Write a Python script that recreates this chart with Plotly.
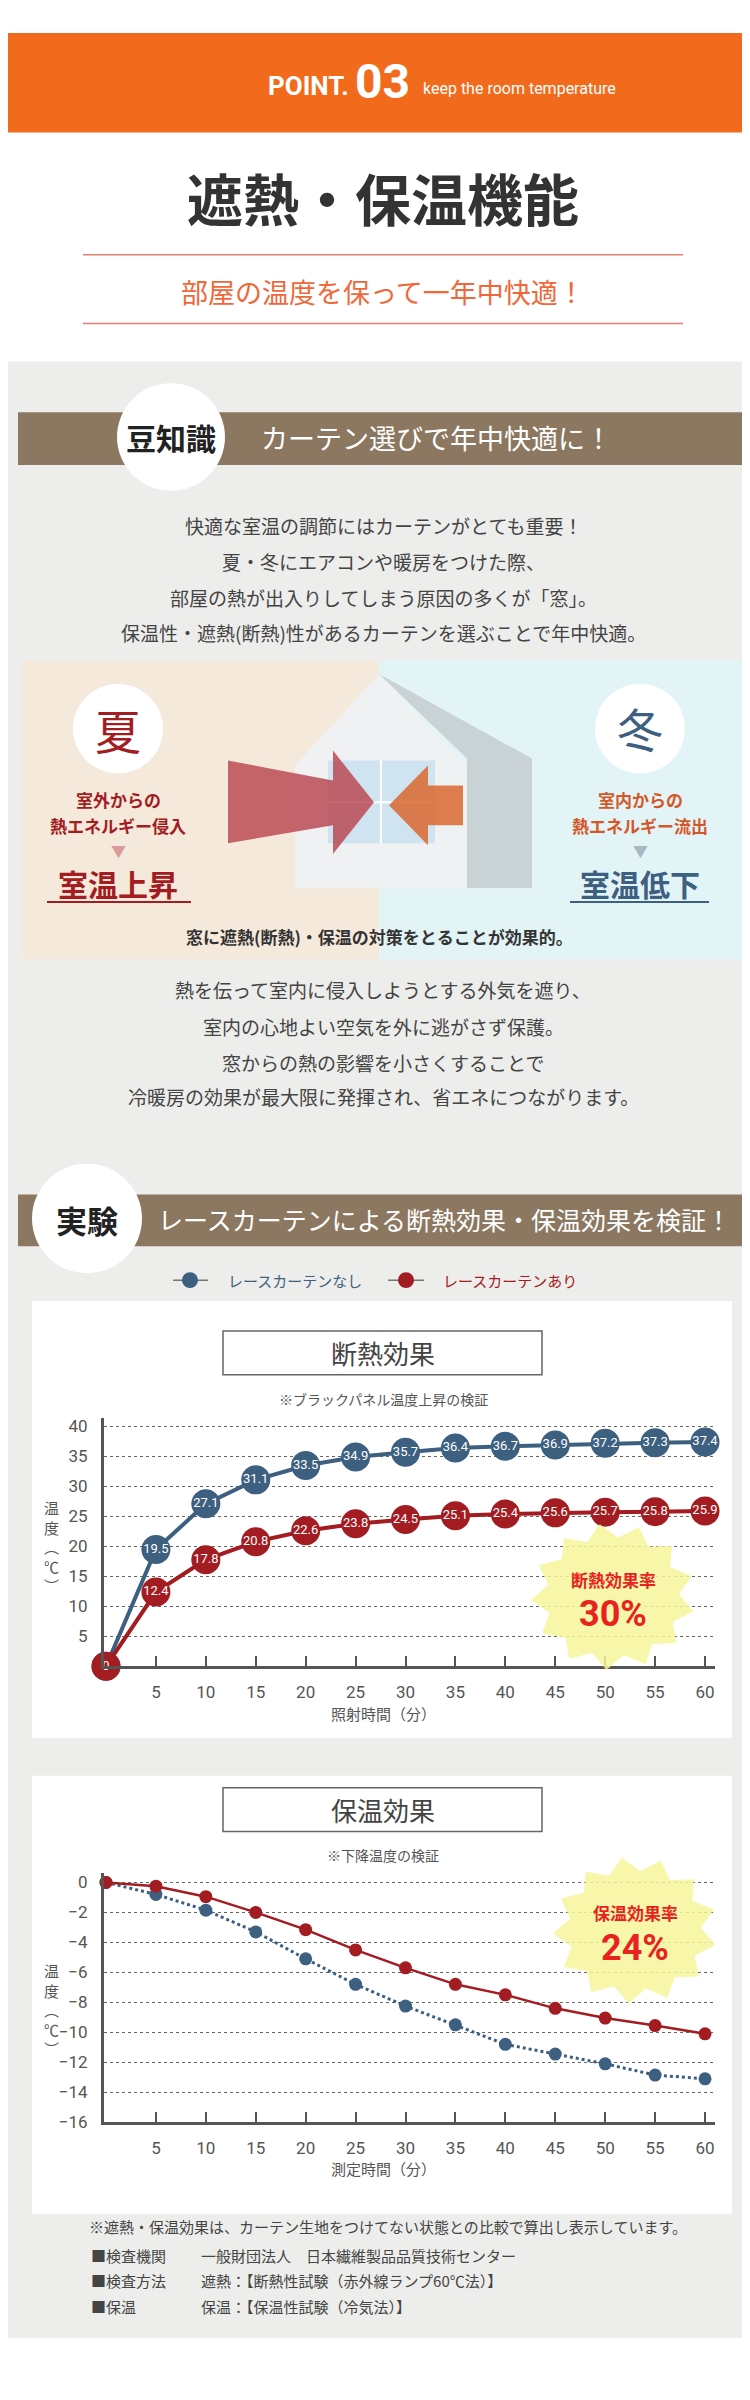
import numpy as np
import plotly.graph_objects as go

W, H = 750, 2400
FONT = "Noto Sans CJK JP"
BLUE = "#3D5F80"
RED = "#A31C22"

# ---- data ----
minutes = [0, 5, 10, 15, 20, 25, 30, 35, 40, 45, 50, 55, 60]
shade_none = [0, 19.5, 27.1, 31.1, 33.5, 34.9, 35.7, 36.4, 36.7, 36.9, 37.2, 37.3, 37.4]
shade_lace = [0, 12.4, 17.8, 20.8, 22.6, 23.8, 24.5, 25.1, 25.4, 25.6, 25.7, 25.8, 25.9]
keep_none = [0, -0.8, -1.85, -3.3, -5.1, -6.8, -8.25, -9.5, -10.8, -11.45, -12.1, -12.85, -13.1]
keep_lace = [0, -0.25, -0.95, -2.0, -3.15, -4.5, -5.7, -6.8, -7.5, -8.4, -9.05, -9.55, -10.1]
x_ticks = [5, 10, 15, 20, 25, 30, 35, 40, 45, 50, 55, 60]
y1_ticks = [5, 10, 15, 20, 25, 30, 35, 40]
y2_ticks = [0, -2, -4, -6, -8, -10, -12, -14, -16]
series_names = ["レースカーテンなし", "レースカーテンあり"]

def px(x): return x / W
def py(y): return 1 - y / H

shapes, anns = [], []

def rect(x0, y0, x1, y1, fill, line=None, lw=0, layer="below"):
    shapes.append(dict(type="rect", xref="paper", yref="paper", x0=px(x0), x1=px(x1),
                       y0=py(y1), y1=py(y0), fillcolor=fill, layer=layer,
                       line=dict(color=line or fill, width=lw)))

def circle(cx, cy, r, fill, layer="below"):
    shapes.append(dict(type="circle", xref="paper", yref="paper", x0=px(cx - r), x1=px(cx + r),
                       y0=py(cy + r), y1=py(cy - r), fillcolor=fill, line=dict(width=0), layer=layer))

def line(x0, y0, x1, y1, color, w=1.5, dash="solid", layer="below"):
    shapes.append(dict(type="line", xref="paper", yref="paper", x0=px(x0), x1=px(x1),
                       y0=py(y0), y1=py(y1), line=dict(color=color, width=w, dash=dash), layer=layer))

def poly(pts, fill, layer="below", op=1.0):
    d = "M " + " L ".join(f"{px(a):.5f},{py(b):.5f}" for a, b in pts) + " Z"
    shapes.append(dict(type="path", xref="paper", yref="paper", path=d, fillcolor=fill,
                       line=dict(width=0), layer=layer, opacity=op))

def text(x, y, s, size, color="#333", bold=False, xanchor="center", family=FONT):
    anns.append(dict(xref="paper", yref="paper", x=px(x), y=py(y), text=f"<b>{s}</b>" if bold else s,
                     showarrow=False, xanchor=xanchor, yanchor="middle",
                     font=dict(size=size, color=color, family=family)))

# ---- header ----
rect(0, 24, 750, 124, "#F26B1D")
text(258, 77, "POINT.", 26, "white", True, "left", "Roboto")
text(345, 73, "03", 48, "white", True, "left", "Roboto")
text(413, 80, "keep the room temperature", 16, "white", False, "left", "Roboto")
text(375, 188, "遮熱・保温機能", 56, "#333", True)
line(75, 247, 675, 247, "#E08070", 1.5)
line(75, 316, 675, 316, "#E08070", 1.5)
text(375, 284, "部屋の温度を保って一年中快適！", 27, "#F0683A")

# ---- grey background ----
rect(0, 354, 750, 2340, "#EDEDEB")

# ---- 豆知識 ----
rect(10, 405, 740, 458, "#8C7760")
circle(163, 430, 54, "white")
text(163, 430, "豆知識", 30, "#222", True)
text(429, 430, "カーテン選びで年中快適に！", 27, "white")
for yy, s in zip([519, 555, 591, 626], ["快適な室温の調節にはカーテンがとても重要！",
                                        "夏・冬にエアコンや暖房をつけた際、",
                                        "部屋の熱が出入りしてしまう原因の多くが「窓」。",
                                        "保温性・遮熱(断熱)性があるカーテンを選ぶことで年中快適。"]):
    text(375, yy, s, 19, "#444")

# ---- illustration ----
rect(14, 655, 371, 955, "#F5E9DC")
rect(371, 655, 739, 955, "#E2F4F5")
poly([(371, 668), (524, 753), (524, 883), (459, 883), (459, 753)], "#C9D3D6")
poly([(287, 760), (371, 668), (459, 760), (459, 883), (287, 883)], "#EFF1F2", op=0.95)
rect(320, 755, 427, 838, "#CFE3F0")
line(373, 755, 373, 838, "white", 2)
line(320, 797, 427, 797, "white", 2)
poly([(220, 755), (325, 775), (325, 745), (366, 797), (325, 849), (325, 820), (220, 838)], "#B8414B", op=0.8)
poly([(455, 780), (420, 780), (420, 760), (381, 800), (420, 840), (420, 820), (455, 820)], "#D9672E", op=0.85)
circle(110, 723, 45, "white")
circle(632, 723, 45, "white")
text(110, 723, "夏", 46, RED)
text(632, 721, "冬", 46, BLUE)
text(110, 794, "室外からの", 17, RED, True)
text(110, 820, "熱エネルギー侵入", 17, RED, True)
text(110, 845, "▼", 15, "#D89A9A")
text(110, 878, "室温上昇", 30, RED, True)
line(39, 897, 183, 897, RED, 2)
text(632, 794, "室内からの", 17, "#D4572A", True)
text(632, 820, "熱エネルギー流出", 17, "#D4572A", True)
text(632, 845, "▼", 15, "#A9B7C3")
text(632, 878, "室温低下", 30, BLUE, True)
line(562, 897, 701, 897, BLUE, 2)
text(371, 932, "窓に遮熱(断熱)・保温の対策をとることが効果的。", 17, "#333", True)

for yy, s in zip([985, 1022, 1058, 1093], ["熱を伝って室内に侵入しようとする外気を遮り、",
                                          "室内の心地よい空気を外に逃がさず保護。",
                                          "窓からの熱の影響を小さくすることで",
                                          "冷暖房の効果が最大限に発揮され、省エネにつながります。"]):
    text(375, yy, s, 19, "#444")

# ---- 実験 ----
rect(10, 1191, 740, 1243, "#8C7760")
circle(79, 1215, 55, "white")
text(79, 1216, "実験", 31, "#222", True)
text(436, 1216, "レースカーテンによる断熱効果・保温効果を検証！", 25, "white")
line(165, 1277, 200, 1277, "#777", 1.5)
circle(182, 1277, 8, BLUE, "above")
text(218, 1277, series_names[0], 15, BLUE, False, "left")
line(380, 1277, 416, 1277, "#777", 1.5)
circle(398, 1277, 8, RED, "above")
text(433, 1277, series_names[1], 15, RED, False, "left")

# ---- chart panels ----
for top, bot, ttl, sub, xt in [(1298, 1737, "断熱効果", "※ブラックパネル温度上昇の検証", "照射時間（分）"),
                               (1775, 2215, "保温効果", "※下降温度の検証", "測定時間（分）")]:
    rect(24, top, 724, bot, "white")
    boxt = top + 30 if top < 1500 else top + 12
    rect(215, boxt, 534, boxt + 44, "white", "#666", 1.5)
    text(375, boxt + 22, ttl, 26, "#444")
    text(375, boxt + 68, sub, 14, "#555")
    text(375, 1712 if top < 1500 else 2169, xt, 15, "#555")

for cy in [1545, 2010]:
    text(43, cy, "温<br>度<br>︵<br>℃<br>︶", 15, "#555")

# ---- footnotes ----
text(79, 2228, "※遮熱・保温効果は、カーテン生地をつけてない状態との比較で算出し表示しています。", 15, "#444", False, "left")
for yy, a, b in [(2257, "■検査機関", "一般財団法人　日本繊維製品品質技術センター"),
                 (2282, "■検査方法", "遮熱：【断熱性試験（赤外線ランプ60℃法）】"),
                 (2308, "■保温", "保温：【保温性試験（冷気法）】")]:
    text(81, yy, a, 15, "#444", False, "left")
    text(191, yy, b, 15, "#444", False, "left")

def starburst(cx, cy, ro, ri, n, rot=0.2):
    ang = np.linspace(0, 2 * np.pi, 2 * n, endpoint=False) + rot
    rr = np.where(np.arange(2 * n) % 2 == 0, ro, ri)
    return list(zip(cx + rr * np.cos(ang), cy + rr * 0.9 * np.sin(ang)))

poly(starburst(605, 1595, 82, 66, 13), "#F7F59A", "above", 0.85)
text(605, 1578, "断熱効果率", 17, "#E8231F", True)
text(605, 1612, "30%", 36, "#E8231F", True, family="Roboto")
poly(starburst(627, 1930, 82, 66, 13), "#F7F59A", "above", 0.85)
text(627, 1912, "保温効果率", 17, "#E8231F", True)
text(627, 1948, "24%", 36, "#E8231F", True, family="Roboto")

fig = go.Figure()
fig.add_trace(go.Scatter(x=minutes, y=shade_none, mode="lines+markers+text", text=[str(v) for v in shade_none],
                         textposition="middle center", textfont=dict(color="white", size=13, family="Roboto"),
                         line=dict(color=BLUE, width=4), marker=dict(size=29, color=BLUE),
                         cliponaxis=False, xaxis="x", yaxis="y", showlegend=False))
fig.add_trace(go.Scatter(x=minutes, y=shade_lace, mode="lines+markers+text", text=[str(v) for v in shade_lace],
                         textposition="middle center", textfont=dict(color="white", size=13, family="Roboto"),
                         line=dict(color=RED, width=4), marker=dict(size=29, color=RED),
                         cliponaxis=False, xaxis="x", yaxis="y", showlegend=False))
fig.add_trace(go.Scatter(x=minutes, y=keep_none, mode="lines+markers", line=dict(color=BLUE, width=3, dash="dot"),
                         marker=dict(size=13, color=BLUE), cliponaxis=False, xaxis="x2", yaxis="y2", showlegend=False))
fig.add_trace(go.Scatter(x=minutes, y=keep_lace, mode="lines+markers", line=dict(color=RED, width=2.5),
                         marker=dict(size=13, color=RED), cliponaxis=False, xaxis="x2", yaxis="y2", showlegend=False))

ax = dict(domain=[px(96), px(707)], range=[-0.2, 61], tickvals=x_ticks, ticks="inside", ticklen=10,
          tickcolor="#555", tickwidth=1.5, showgrid=False, zeroline=False, showline=True, linecolor="#555",
          linewidth=3, tickfont=dict(size=17, color="#555", family="Roboto"), ticklabelstandoff=8)
ay = dict(showline=True, linecolor="#555", linewidth=3, zeroline=False, showgrid=True, gridcolor="#666",
          griddash="dot", gridwidth=1, ticks="", tickfont=dict(size=17, color="#555", family="Roboto"),
          ticklabelstandoff=10)
fig.update_layout(
    width=W, height=H, margin=dict(l=0, r=0, t=0, b=0), paper_bgcolor="white", plot_bgcolor="rgba(0,0,0,0)",
    xaxis=dict(ax, anchor="y"), xaxis2=dict(ax, anchor="y2"),
    yaxis=dict(ay, domain=[py(1665), py(1415)], range=[0, 41.5], tickvals=y1_ticks, anchor="x"),
    yaxis2=dict(ay, domain=[py(2123), py(1873)], range=[-16, 0.6], tickvals=y2_ticks, anchor="x2"),
    shapes=shapes, annotations=anns, font=dict(family=FONT),
)
fig.write_html("out.html")
